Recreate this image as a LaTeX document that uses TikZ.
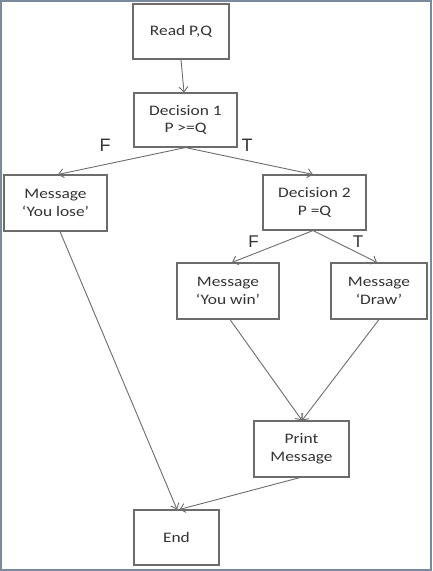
\documentclass[tikz,border=0pt]{standalone}
\usepackage{fontspec}
\setmainfont[FakeStretch=1.2]{Carlito}
\newfontfamily\tfsans{Liberation Sans}
\usetikzlibrary{arrows.meta}
\definecolor{khung}{HTML}{7A8A9E}
\definecolor{duong}{HTML}{6C6C6C}
\definecolor{chu}{HTML}{333333}

\begin{document}
\begin{tikzpicture}[x=1pt, y=-1pt, >={Straight Barb[length=5pt, width=9pt]},
    hop/.style={draw=duong, line width=1.1pt, text=chu, align=center,
        font=\fontsize{14.5}{17.5}\selectfont, inner sep=0pt},
    nhan/.style={text=chu, font=\tfsans\fontsize{18}{18}\selectfont, inner sep=0pt},
    mui/.style={->, draw=duong, line width=0.9pt}]
    % Khung ngoài của hình
    \useasboundingbox (0, 0) rectangle (432, 571);
    \draw[khung, line width=1.6pt] (0.8, 0.8) rectangle (430.8, 569.8);

    % Các hộp của lưu đồ
    \node[hop, minimum width=96pt, minimum height=55pt] (read) at (181, 31.5) {Read P,Q};
    \node[hop, minimum width=103pt, minimum height=54pt] (dec1) at (185.5, 120) {Decision 1\\P >=Q};
    \node[hop, minimum width=103pt, minimum height=56pt] (lose) at (55.5, 203) {Message\\‘You lose’};
    \node[hop, minimum width=103pt, minimum height=55pt] (dec2) at (314.5, 202.5) {Decision 2\\P =Q};
    \node[hop, minimum width=102pt, minimum height=56pt] (win) at (228, 291) {Message\\‘You win’};
    \node[hop, minimum width=96pt, minimum height=56pt] (draw) at (379, 291) {Message\\‘Draw’};
    \node[hop, minimum width=95pt, minimum height=56pt] (print) at (301.5, 449) {Print\\Message};
    \node[hop, minimum width=85pt, minimum height=55pt] (end) at (176.5, 537.5) {End};

    % Nhãn F, T của hai quyết định
    \node[nhan] (f1) at (105, 145) {F};
    \node[nhan] (t1) at (247, 145) {T};
    \node[nhan, font=\tfsans\fontsize{17}{17}\selectfont] (f2) at (253.5, 241.5) {F};
    \node[nhan, font=\tfsans\fontsize{17}{17}\selectfont] (t2) at (358, 241.5) {T};

    % Các mũi tên nối
    \draw[mui] (read.south) -- ([xshift=-1.5pt]dec1.north);
    \draw[mui] (dec1.south) -- ([xshift=2.5pt]lose.north);
    \draw[mui] (dec1.south) -- ([xshift=-1.5pt]dec2.north);
    \draw[mui] ([xshift=-1.5pt]dec2.south) -- ([xshift=4pt]win.north);
    \draw[mui] ([xshift=-1.5pt]dec2.south) -- ([xshift=-2pt]draw.north);
    \draw[mui] ([xshift=4.5pt]lose.south) -- ([xshift=0.5pt]end.north);
    \draw[mui] ([xshift=2pt]win.south) -- ([xshift=0.5pt]print.north);
    \draw[mui] (draw.south) -- ([xshift=0.5pt]print.north);
    \draw[mui] ([xshift=-1.5pt]print.south) -- ([xshift=3pt]end.north);
\end{tikzpicture}
\end{document}
